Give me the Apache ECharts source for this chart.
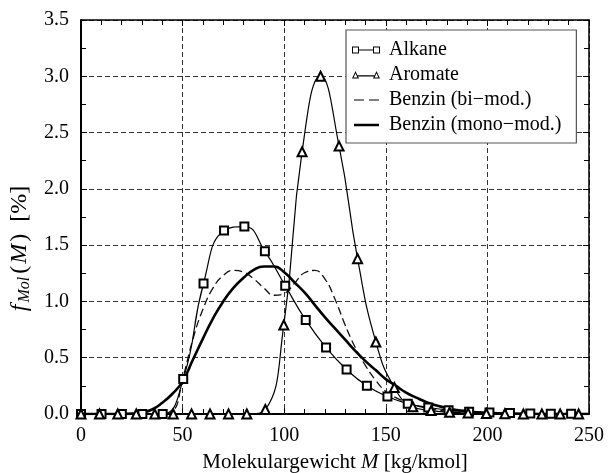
<!DOCTYPE html>
<html><head><meta charset="utf-8">
<script src="https://cdn.jsdelivr.net/npm/echarts@6/dist/echarts.min.js"></script>
<style>html,body{margin:0;padding:0;background:#fff;}#c{width:614px;height:473px;}</style>
</head><body><div id="c"></div>
<script>
// ---- data ----
const seriesNames = ['Alkane', 'Aromate', 'Benzin (bi\u2212mod.)', 'Benzin (mono\u2212mod.)'];

const alkaneM = [0, 10.1, 20.1, 30.2, 40.2, 50.3, 60.3, 70.4, 80.4, 90.5, 100.5, 110.6, 120.6, 130.7, 140.7, 150.8, 160.8, 170.9, 180.9, 191.0, 201.0, 211.1, 221.1, 231.2, 241.2];
const alkaneF = [0, 0, 0, 0, 0, 0.31, 1.16, 1.63, 1.665, 1.445, 1.14, 0.835, 0.59, 0.395, 0.25, 0.155, 0.092, 0.058, 0.034, 0.021, 0.013, 0.008, 0.005, 0.003, 0.002];

const aromateM = [0, 9.1, 18.1, 27.2, 36.3, 45.4, 54.4, 63.5, 72.6, 81.6, 90.7, 99.8, 108.8, 117.9, 127.0, 136.1, 145.1, 154.2, 163.3, 172.3, 181.4, 190.5, 199.5, 208.6, 217.7, 226.8, 235.8, 244.9];
const aromateF = [0, 0, 0, 0, 0, 0, 0, 0, 0, 0, 0.04, 0.79, 2.33, 3.0, 2.38, 1.38, 0.64, 0.235, 0.065, 0.03, 0.015, 0.008, 0.004, 0.002, 0, 0, 0, 0];

const benzinM = [0, 5, 10, 15, 20, 25, 30, 35, 40, 45, 50, 55, 60, 65, 70, 75, 80, 85, 90, 95, 100, 105, 110, 115, 120, 125, 130, 135, 140, 145, 150, 155, 160, 165, 170, 175, 180, 185, 190, 195, 200, 205, 210, 215, 220, 225, 230, 235, 240, 245, 250];
const benzinBiF = [0, 0, 0, 0, 0, 0, 0, 0, 0, 0.02, 0.31, 0.66, 0.93, 1.12, 1.23, 1.275, 1.26, 1.2, 1.12, 1.055, 1.07, 1.16, 1.255, 1.275, 1.2, 1.02, 0.79, 0.59, 0.43, 0.3, 0.2, 0.145, 0.105, 0.075, 0.052, 0.036, 0.025, 0.017, 0.011, 0.007, 0.004, 0.002, 0.001, 0, 0, 0, 0, 0, 0, 0, 0];
const benzinMonoF = [0, 0, 0, 0, 0, 0.003, 0.012, 0.04, 0.1, 0.18, 0.29, 0.48, 0.67, 0.85, 1.0, 1.12, 1.21, 1.28, 1.31, 1.31, 1.26, 1.17, 1.08, 0.97, 0.86, 0.76, 0.66, 0.56, 0.47, 0.39, 0.31, 0.25, 0.19, 0.145, 0.105, 0.075, 0.052, 0.036, 0.025, 0.016, 0.01, 0.006, 0.004, 0.002, 0.001, 0, 0, 0, 0, 0, 0];

const xMin = 0, xMax = 250, xStep = 50;
const yMin = 0, yMax = 3.5, yStep = 0.5;

// ---- chart ----
const F = 'Liberation Serif';
const pairs = (xs, ys) => xs.map((x, i) => [x, ys[i]]);

const pad = 'M0,0L0,0ZM32,8L32,8Z';
const iconSq = 'path://' + pad + 'M0,0.5L7,0.5L7,7.5L0,7.5Z M1,1.5L1,6.5L6,6.5L6,1.5Z M7,3.4L21,3.4L21,4.6L7,4.6Z M21,0.5L28,0.5L28,7.5L21,7.5Z M22,1.5L22,6.5L27,6.5L27,1.5Z';
const iconTri = 'path://' + pad + 'M3.5,0L7,7.5L0,7.5Z M3.5,2.3L1.6,6.6L5.4,6.6Z M5.7,4.3L22.3,4.3L22.3,5.4L5.7,5.4Z M24.5,0L28,7.5L21,7.5Z M24.5,2.3L22.6,6.6L26.4,6.6Z';
const iconDash = 'path://' + pad + 'M2,3.4L12,3.4L12,4.6L2,4.6Z M17,3.4L27,3.4L27,4.6L17,4.6Z';
const iconSolid = 'path://' + pad + 'M2,2.7L27,2.7L27,5.3L2,5.3Z';
const icons = [iconSq, iconTri, iconDash, iconSolid];

const axisLineStyle = (w) => ({ show: true, onZero: false, lineStyle: { color: '#000', width: w } });
const gridLine = { show: true, lineStyle: { color: '#333', width: 1, type: [5, 3] } };

const chart = echarts.init(document.getElementById('c'), null, { renderer: 'canvas' });
chart.setOption({
  animation: false,
  backgroundColor: '#fff',
  textStyle: { fontFamily: F },
  grid: { left: 81, right: 25, top: 20, bottom: 59, containLabel: false, outerBoundsMode: 'none' },
  legend: {
    orient: 'vertical', left: 346, top: 30,
    padding: [10, 15, 8, 6], itemGap: 5, itemWidth: 32, itemHeight: 8,
    backgroundColor: '#fff', borderColor: '#555', borderWidth: 1.2,
    selectedMode: false,
    textStyle: { fontFamily: F, fontSize: 20, color: '#000' },
    data: seriesNames.map((n, i) => ({ name: n, icon: icons[i], itemStyle: { color: '#000', borderWidth: 0, opacity: 1 } }))
  },
  xAxis: [{
    type: 'value', min: xMin, max: xMax, interval: xStep, position: 'bottom',
    name: '{n|Molekulargewicht }{i|M}{n| [kg/kmol]}', nameLocation: 'middle', nameGap: 38,
    nameTextStyle: { fontFamily: F, fontSize: 21, color: '#000', rich: { n: { fontFamily: F, fontSize: 21, color: '#000' }, i: { fontFamily: F, fontSize: 21, fontStyle: 'italic', color: '#000' } } },
    axisLine: axisLineStyle(2),
    axisTick: { show: true, inside: true, length: 6, lineStyle: { color: '#000', width: 1 } },
    minorTick: { show: true, splitNumber: 5, length: 5, lineStyle: { color: '#000', width: 1 } },
    axisLabel: { fontFamily: F, fontSize: 20, color: '#000', margin: 12 },
    splitLine: gridLine
  }, {
    type: 'value', min: xMin, max: xMax, interval: xStep, position: 'top',
    axisLine: axisLineStyle(1.5),
    axisTick: { show: true, inside: true, length: 6, lineStyle: { color: '#000', width: 1 } },
    minorTick: { show: true, splitNumber: 5, length: 5, lineStyle: { color: '#000', width: 1 } },
    axisLabel: { show: false }, splitLine: { show: false }
  }],
  yAxis: [{
    type: 'value', min: yMin, max: yMax, interval: yStep, position: 'left',
    name: '{f|f}{s|Mol}{n|(}{m|M}{n|)  [%]}', nameLocation: 'middle', nameGap: 41,
    nameTextStyle: { fontFamily: F, fontSize: 24, color: '#000', padding: [0, 63, 0, 0],
      rich: {
        f: { fontFamily: F, fontSize: 24, fontStyle: 'italic', color: '#000', padding: [0, 2, 0, 0] },
        m: { fontFamily: F, fontSize: 24, fontStyle: 'italic', color: '#000', padding: [0, 2, 0, 2] },
        s: { fontFamily: F, fontSize: 16, fontStyle: 'italic', color: '#000', padding: [11, 3, 0, 0] },
        n: { fontFamily: F, fontSize: 24, color: '#000' }
      } },
    axisLine: axisLineStyle(2),
    axisTick: { show: true, inside: true, length: 6, lineStyle: { color: '#000', width: 1 } },
    minorTick: { show: true, splitNumber: 2, length: 5, lineStyle: { color: '#000', width: 1 } },
    axisLabel: { fontFamily: F, fontSize: 20, color: '#000', margin: 12, formatter: v => v.toFixed(1) },
    splitLine: gridLine
  }, {
    type: 'value', min: yMin, max: yMax, interval: yStep, position: 'right',
    axisLine: axisLineStyle(1.5),
    axisTick: { show: true, inside: true, length: 6, lineStyle: { color: '#000', width: 1 } },
    minorTick: { show: true, splitNumber: 2, length: 5, lineStyle: { color: '#000', width: 1 } },
    axisLabel: { show: false }, splitLine: { show: false }
  }],
  series: [
    { name: seriesNames[2], type: 'line', data: pairs(benzinM, benzinBiF), smooth: 0.5, symbol: 'none',
      lineStyle: { color: '#111', width: 1.3, type: [8, 4] }, itemStyle: { color: '#000' }, emphasis: { disabled: true }, z: 2 },
    { name: seriesNames[3], type: 'line', data: pairs(benzinM, benzinMonoF), smooth: 0.5, symbol: 'none',
      lineStyle: { color: '#000', width: 2.6 }, itemStyle: { color: '#000' }, emphasis: { disabled: true }, z: 2 },
    { name: seriesNames[0], type: 'line', data: pairs(alkaneM, alkaneF), smooth: 0.5, symbol: 'emptyRect', symbolSize: 8,
      showAllSymbol: true, lineStyle: { color: '#000', width: 1.2 }, itemStyle: { color: '#000', borderWidth: 1 }, emphasis: { disabled: true }, z: 3 },
    { name: seriesNames[1], type: 'line', data: pairs(aromateM, aromateF), smooth: 0.5, symbol: 'emptyTriangle', symbolSize: 9,
      showAllSymbol: true, lineStyle: { color: '#000', width: 1.2 }, itemStyle: { color: '#000', borderWidth: 1 }, emphasis: { disabled: true }, z: 3 }
  ]
});
</script></body></html>
